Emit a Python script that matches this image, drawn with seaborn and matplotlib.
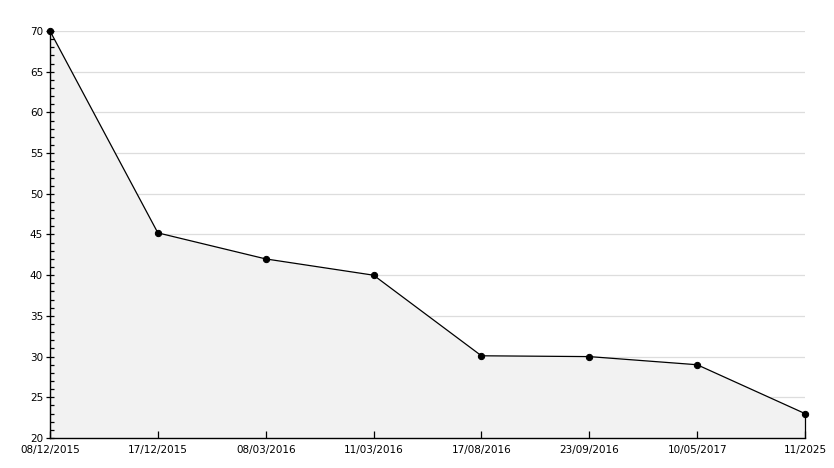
import matplotlib
matplotlib.use("Agg")
import matplotlib.pyplot as plt
import seaborn as sns
import pandas as pd
import numpy as np
from matplotlib.ticker import MultipleLocator

dates = ["08/12/2015", "17/12/2015", "08/03/2016", "11/03/2016",
         "17/08/2016", "23/09/2016", "10/05/2017", "11/2025"]
values = [70, 45.2, 42, 40, 30.1, 30, 29, 23]

df = pd.DataFrame({"idx": np.arange(len(dates)), "value": values})

sns.set_style("white")
plt.rcParams['font.family'] = ['DejaVu Sans']

fig = plt.figure(figsize=(8.34, 4.68), dpi=100)
ax = fig.add_axes([50/834, 1-438/468, (805-50)/834, (438-31)/468])

ax.set_xlim(0, len(dates) - 1)
ax.set_ylim(20, 70)
ax.yaxis.set_major_locator(MultipleLocator(5))
ax.yaxis.set_minor_locator(MultipleLocator(1))

# grid lines beneath the fill
for yv in ax.get_yticks():
    if 20 < yv <= 70:
        ax.axhline(yv, color="#dddddd", linewidth=0.9, zorder=0.1)

ax.fill_between(df["idx"], df["value"], 20, color="#f2f2f2", zorder=0.3, linewidth=0)
sns.lineplot(data=df, x="idx", y="value", ax=ax, color="black", linewidth=0.9,
             marker="o", markersize=4.5, markeredgecolor="black", zorder=3,
             clip_on=False)
ax.plot([df["idx"].iloc[-1]] * 2, [20, values[-1]], color="black", linewidth=0.9,
        zorder=3, clip_on=False)

ax.set_xlim(0, len(dates) - 1)
ax.set_ylim(20, 70)
ax.set_xticks(df["idx"])
ax.set_xticklabels(dates)
ax.grid(False)
ax.set_axisbelow(False)

for s in ["top", "right"]:
    ax.spines[s].set_visible(False)
for s in ["left", "bottom"]:
    ax.spines[s].set_color("black")
    ax.spines[s].set_linewidth(1.0)

ax.tick_params(axis="y", which="major", left=True, direction="inout", length=6, width=0.9,
               labelsize=7.5, pad=2, colors="black")
ax.tick_params(axis="y", which="minor", left=True, direction="in", length=3, width=0.9,
               colors="black")
ax.tick_params(axis="x", which="major", bottom=True, direction="in", length=5, width=0.9,
               labelsize=7.5, pad=5, colors="black")
ax.set_xlabel("")
ax.set_ylabel("")

fig.savefig("out.png", dpi=100)
